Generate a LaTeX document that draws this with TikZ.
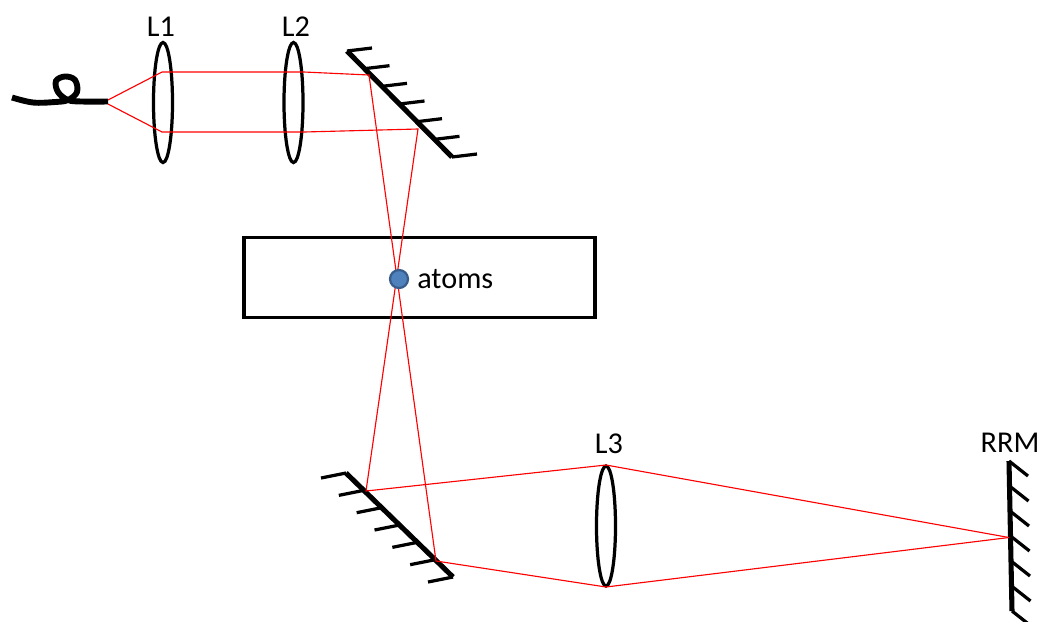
\documentclass[tikz,border=0pt]{standalone}
\usepackage{fontspec}
\setmainfont{Carlito}
\usepackage{tikz}
\usetikzlibrary{shapes.geometric, calc}

\definecolor{atomblue}{HTML}{4F81BD}
\definecolor{atomedge}{HTML}{385D8A}

\tikzset{
	lens/.style={draw, ellipse, line width=2.3pt, inner sep=0pt, minimum width=0.475cm, minimum height=3.0cm},
	ray/.style={red, line width=0.8pt},
	mirror/.style={line width=3.6pt},
	hatch/.style={line width=2.3pt},
	lbl/.style={font=\fontsize{21.5}{25}\selectfont, inner sep=0pt}
}

\begin{document}
\begin{tikzpicture}[x=0.025cm, y=-0.025cm]
		\useasboundingbox (0, 0) rectangle (1040, 621);

		% Chamber
		\node[draw, line width=2.3pt, minimum width=8.77cm, minimum height=2.0cm, inner sep=0pt] (chamber) at (419.5, 277.5) {};

		% Lenses
		\node[lens] (L1) at (163, 102.5) {};
		\node[lens] (L2) at (293.5, 102.5) {};
		\node[lens] (L3) at (606, 526) {};
		\node[lbl] (L1text) at (161, 27) {L1};
		\node[lbl] (L2text) at (296, 27) {L2};
		\node[lbl] (L3text) at (609, 444) {L3};
		\node[lbl] (RRMtext) at (1010, 443) {RRM};

		% Fibre
		\draw[line width=4.2pt, line cap=butt] plot[smooth, tension=0.6] coordinates {(12, 97.5) (33, 102.5) (55, 102) (68, 100) (77, 92) (75, 80) (65, 76.5) (56, 81) (58, 92) (68, 100) (82, 101.5) (108, 101.5)};

		% Mirrors
		\coordinate (M1a) at (347, 51);
		\coordinate (M1b) at (452, 157);
		\coordinate (M2a) at (346, 473);
		\coordinate (M2b) at (453, 577);
		\coordinate (RRMa) at (1009, 461);
		\coordinate (RRMb) at (1012, 611);
		\draw[mirror] (M1a) -- (M1b);
		\draw[mirror] (M2a) -- (M2b);
		\draw[mirror] (RRMa) -- (RRMb);
		\foreach \i in {0,...,6} {
			\draw[hatch] ($(M1a)!\i/6!(M1b)$) -- ++(25, -3);
			\draw[hatch] ($(M2a)!\i/6!(M2b)$) -- ++(-25, 5);
			\draw[hatch] ($(RRMa)!\i/6!(RRMb)$) -- ++(19, 15);
		}

		% Beam points
		\coordinate (fibretop) at (108, 100);
		\coordinate (fibrebot) at (108, 104);
		\coordinate (L1top) at (162, 72);
		\coordinate (L1bot) at (162, 132);
		\coordinate (L2top) at (304, 72);
		\coordinate (L2bot) at (304, 132);
		\coordinate (M1top) at (369, 75);
		\coordinate (M1bot) at (418, 129);
		\coordinate (M2top) at (366, 491);
		\coordinate (M2bot) at (436, 561);
		\coordinate (L3top) at (606, 465);
		\coordinate (L3bot) at (606, 587);
		\coordinate (RRMhit) at (1009, 537.5);

		% Beam
		\draw[ray] (fibretop) -- (L1top) -- (L2top) -- (M1top) -- (M2bot) -- (L3bot) -- (RRMhit);
		\draw[ray] (fibrebot) -- (L1bot) -- (L2bot) -- (M1bot) -- (M2top) -- (L3top) -- (RRMhit);

		% Atoms
		\node[circle, draw=atomedge, fill=atomblue, line width=1.6pt, minimum size=0.45cm, inner sep=0pt] (atoms) at (399, 279) {};
		\node[lbl, anchor=west] (atomstext) at (417, 279) {atoms};
	\end{tikzpicture}
\end{document}
